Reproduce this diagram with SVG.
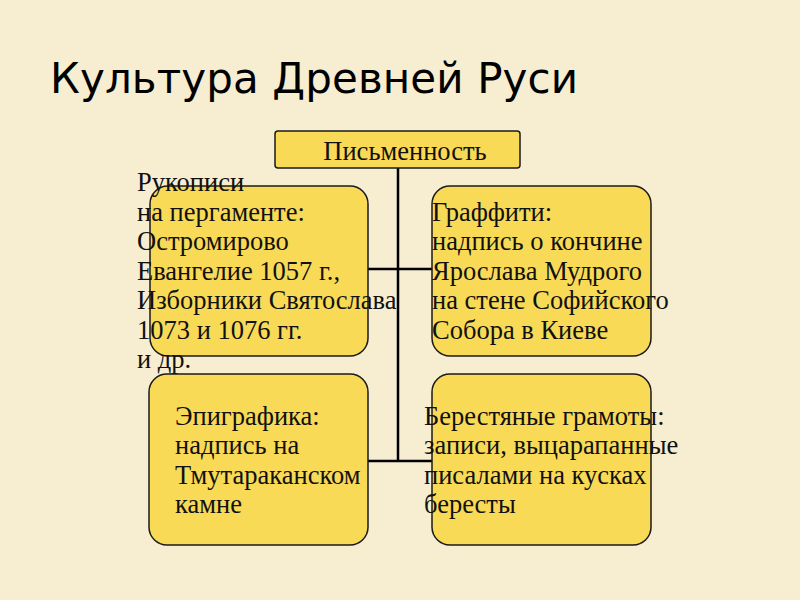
<svg xmlns="http://www.w3.org/2000/svg" width="800" height="600" viewBox="0 0 800 600">
<style>
.box{fill:#f8da57;stroke:#1a1a1a;stroke-width:1.5}
.t{font-family:"Liberation Serif","Times New Roman",serif;font-size:26.5px;fill:#111}
.title{font-family:"DejaVu Sans",Verdana,sans-serif;font-size:42px;fill:#000}
.c{stroke:#000;stroke-width:2.5;fill:none}
</style>
<rect width="800" height="600" fill="#f7edd0"/>
<text class="title" x="50" y="93" textLength="528" lengthAdjust="spacing">Культура Древней Руси</text>
<g id="connectors">
<path class="c" d="M398 168V461M368 269H432M368 461H432"/>
</g>
<g id="n-root">
<rect class="box" x="275" y="131" width="245" height="37" rx="3"/>
<text class="t" x="405" y="160" text-anchor="middle">Письменность</text>
</g>
<g id="n-manuscripts">
<rect class="box" x="150" y="186" width="218" height="170" rx="18"/>
<text class="t"><tspan x="137" y="191">Рукописи</tspan><tspan x="137" y="221">на пергаменте:</tspan><tspan x="137" y="250">Остромирово</tspan><tspan x="137" y="280">Евангелие 1057 г.,</tspan><tspan x="137" y="309">Изборники Святослава</tspan><tspan x="137" y="339">1073 и 1076 гг.</tspan><tspan x="137" y="368">и др.</tspan></text>
</g>
<g id="n-graffiti">
<rect class="box" x="432" y="186" width="219" height="170" rx="18"/>
<text class="t"><tspan x="432" y="221">Граффити:</tspan><tspan x="432" y="250">надпись о кончине</tspan><tspan x="432" y="280">Ярослава Мудрого</tspan><tspan x="432" y="309">на стене Софийского</tspan><tspan x="432" y="339">Собора в Киеве</tspan></text>
</g>
<g id="n-epigraphy">
<rect class="box" x="149" y="374" width="219" height="171" rx="18"/>
<text class="t"><tspan x="175" y="425">Эпиграфика:</tspan><tspan x="175" y="454">надпись на</tspan><tspan x="175" y="484">Тмутараканском</tspan><tspan x="175" y="513">камне</tspan></text>
</g>
<g id="n-birchbark">
<rect class="box" x="432" y="374" width="219" height="171" rx="18"/>
<text class="t"><tspan x="424" y="425">Берестяные грамоты:</tspan><tspan x="424" y="454">записи, выцарапанные</tspan><tspan x="424" y="484">писалами на кусках</tspan><tspan x="424" y="513">бересты</tspan></text>
</g>
</svg>
